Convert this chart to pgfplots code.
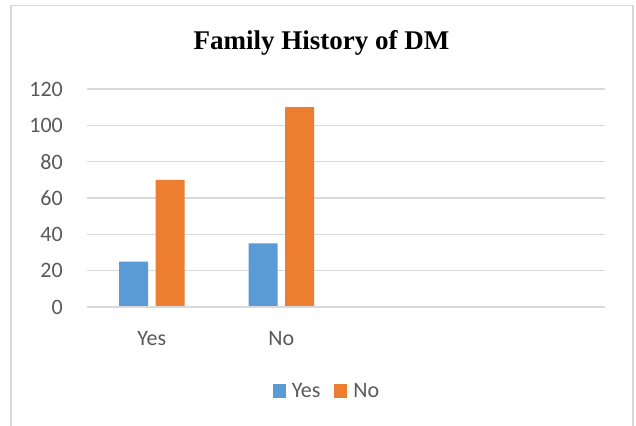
\documentclass[border=0pt]{standalone}
\usepackage{pgfplots}
\pgfplotsset{compat=1.18}
\usepackage{fontspec}
\setmainfont{Carlito}
\newfontfamily\titlefont{Liberation Serif}
\definecolor{cblue}{HTML}{5B9BD5}
\definecolor{corange}{HTML}{ED7D31}
\definecolor{ctext}{HTML}{595959}
\definecolor{cgrid}{HTML}{D9D9D9}
\begin{document}
\begin{tikzpicture}[x=1pt,y=1pt]
\useasboundingbox (0,0) rectangle (636,425);
\draw[cgrid, line width=1.6pt] (11,-5) -- (11,419.5) -- (633,419.5) -- (633,-5);
\begin{axis}[
  at={(87pt,118pt)}, anchor=south west,
  scale only axis, width=518pt, height=218pt,
  xmin=-0.5, xmax=3.5, ymin=0, ymax=120,
  xtick={0,1}, xticklabels={Yes,No},
  ytick={0,20,...,120},
  axis line style={draw=none},
  major tick length=0pt,
  ymajorgrids, grid style={cgrid, line width=1.3pt},
  tick label style={font=\fontsize{22}{26}\selectfont, text=ctext},
  /pgf/number format/assume math mode=true,
  yticklabel style={inner sep=0pt, anchor=east, xshift=-24pt},
  xticklabel style={inner sep=0pt, anchor=center, yshift=-32pt},
  title={\titlefont\bfseries Family History of DM},
  title style={at={(0.4527,1.155)}, anchor=base, font=\fontsize{27}{32}\selectfont, text=black},
  legend columns=2,
  legend style={draw=none, fill=none, at={(0.4624,-0.385)}, anchor=center,
    font=\fontsize{22}{26}\selectfont, text=ctext,
    /tikz/every odd column/.style={column sep=5pt},
    /tikz/every even column/.style={column sep=13pt},
    inner sep=0pt, nodes={inner sep=1pt}},
  legend image code/.code={\fill[#1] (0pt,-7pt) rectangle (13pt,7pt);},
]
\addplot[ybar, bar width=29pt, bar shift=-18.25pt, fill=cblue, draw=none] coordinates {(0,25) (1,35)};
\addlegendentry{Yes}
\addplot[ybar, bar width=29pt, bar shift=18.25pt, fill=corange, draw=none] coordinates {(0,70) (1,110)};
\addlegendentry{No}
\draw[cgrid, line width=1.3pt] (axis cs:-0.5,0) -- (axis cs:3.5,0);
\end{axis}
\end{tikzpicture}
\end{document}
